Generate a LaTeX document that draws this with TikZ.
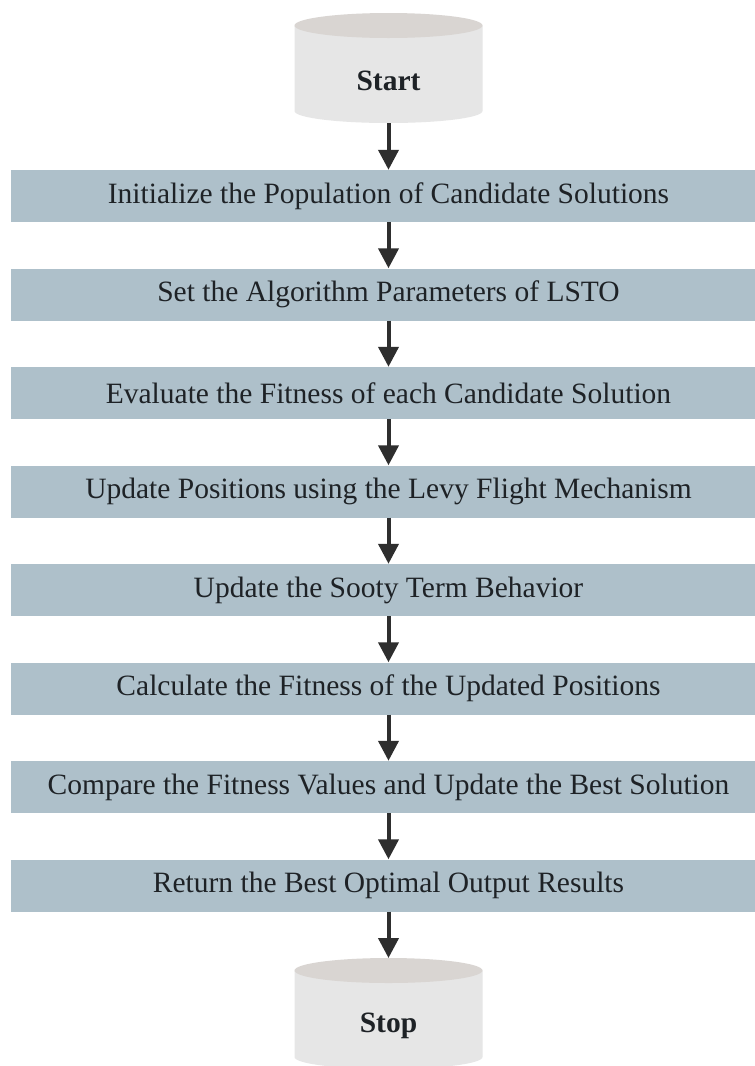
\documentclass[tikz,border=0pt]{standalone}
\usepackage{fontspec}
\setmainfont{Liberation Serif}
\usetikzlibrary{arrows.meta}
\definecolor{boxfill}{HTML}{AEC0CA}
\definecolor{cylbody}{HTML}{E6E6E6}
\definecolor{cyltop}{HTML}{D9D5D2}
\definecolor{arrowcol}{HTML}{2E2E2E}
\definecolor{txtcol}{HTML}{1E2226}
\newcommand{\drawcyl}[3]{% center x, top ellipse center y, bottom ellipse center y
  \fill[cylbody] (#1-94,#2) -- (#1-94,#3) arc[start angle=180,end angle=0,x radius=94,y radius=12] -- (#1+94,#2) -- cycle;
  \fill[cyltop] (#1,#2) ellipse[x radius=94,y radius=12.5];
}
\tikzset{
  stepbox/.style={rectangle, fill=boxfill, minimum width=756pt, minimum height=52pt, inner sep=0pt,
    text=txtcol, font=\fontsize{29.5}{34}\selectfont},
  termlabel/.style={rectangle, minimum width=188pt, minimum height=85pt, inner sep=0pt,
    text=txtcol, font=\fontsize{29.5}{34}\selectfont\bfseries},
  flow/.style={draw=arrowcol, line width=4pt, -{Triangle[length=20pt,width=20pt]}}
}
\begin{document}
\begin{tikzpicture}[x=1pt,y=-1pt]
\useasboundingbox (0,0) rectangle (755,1066);
\clip (0,0) rectangle (755,1066);
\fill[white] (0,0) rectangle (755,1066);
\drawcyl{388.5}{25.5}{111}
\drawcyl{388.5}{970.5}{1057}
\node[termlabel] (start) at (388.5,80.5) {Start};
\node[termlabel] (stop) at (388.5,1025.5) {Stop};
\node[stepbox] (s1) at (388.5,196) {Initialize the Population of Candidate Solutions};
\node[stepbox] (s2) at (388.5,294.5) {Set the Algorithm Parameters of LSTO};
\node[stepbox] (s3) at (388.5,393) {Evaluate the Fitness of each Candidate Solution};
\node[stepbox] (s4) at (388.5,491.5) {Update Positions using the Levy Flight Mechanism};
\node[stepbox] (s5) at (388.5,590) {Update the Sooty Term Behavior};
\node[stepbox] (s6) at (388.5,688.5) {Calculate the Fitness of the Updated Positions};
\node[stepbox] (s7) at (388.5,787) {Compare the Fitness Values and Update the Best Solution};
\node[stepbox] (s8) at (388.5,885.5) {Return the Best Optimal Output Results};
\coordinate (stoptop) at (388.5,958);
\draw[flow] (start.south) -- (s1.north);
\draw[flow] (s1.south) -- (s2.north);
\draw[flow] (s2.south) -- (s3.north);
\draw[flow] (s3.south) -- (s4.north);
\draw[flow] (s4.south) -- (s5.north);
\draw[flow] (s5.south) -- (s6.north);
\draw[flow] (s6.south) -- (s7.north);
\draw[flow] (s7.south) -- (s8.north);
\draw[flow] (s8.south) -- (stoptop);
\end{tikzpicture}
\end{document}
